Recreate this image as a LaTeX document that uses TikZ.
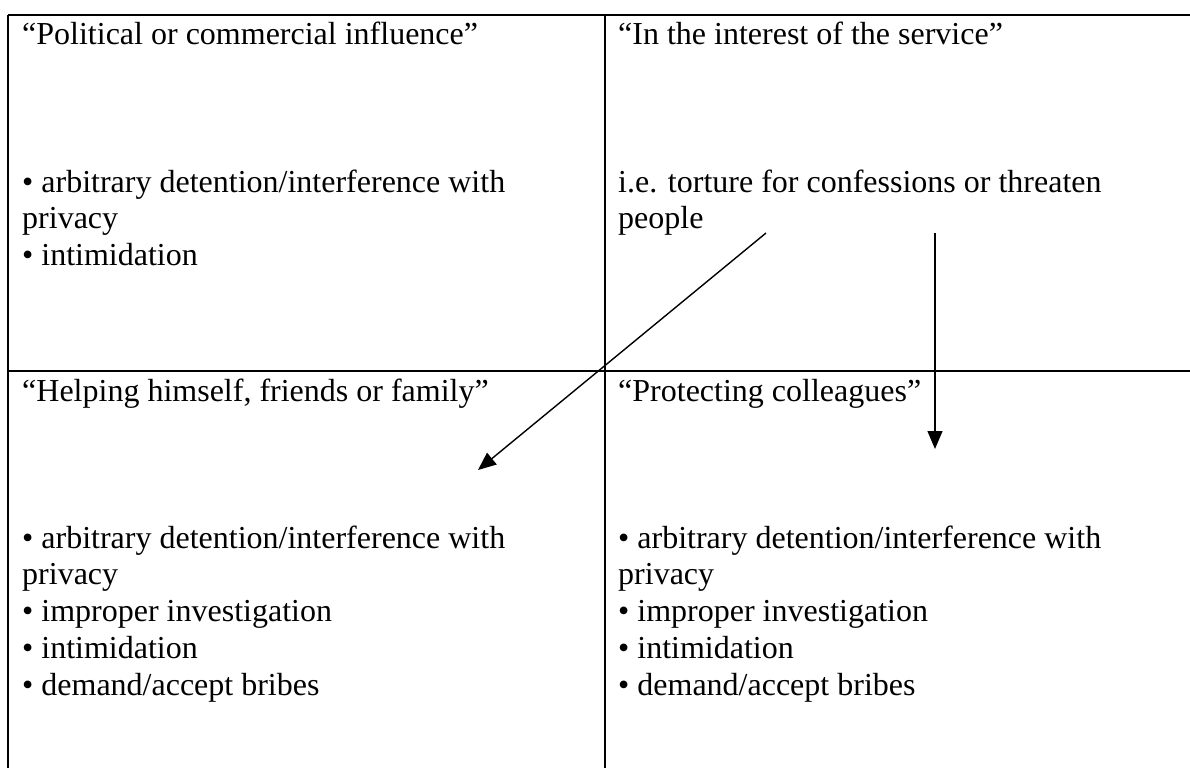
\documentclass[tikz,border=0pt]{standalone}
\usepackage{fontspec}
\setmainfont{Liberation Serif}
\usetikzlibrary{arrows.meta}
\begin{document}
\begin{tikzpicture}[x=1pt,y=-1pt,
  grid/.style={line width=2.2pt,black},
  txt/.style={anchor=base west,inner sep=0pt,font=\fontsize{32}{36.8}\selectfont},
  arr/.style={line width=1.4pt,-{Triangle[length=18pt,width=15pt]}}]
\useasboundingbox (0,0) rectangle (1190,768);
% grid
\coordinate (tl) at (8,15);
\coordinate (tr) at (1190,15);
\coordinate (ml) at (8,371);
\coordinate (mr) at (1190,371);
\coordinate (bl) at (8,768);
\coordinate (mt) at (605,15);
\coordinate (mb) at (605,768);
\draw[grid] (tl) -- (tr);
\draw[grid] (ml) -- (mr);
\draw[grid] (tl) -- (bl);
\draw[grid] (mt) -- (mb);
% texts
\node[txt] (t1) at (22,45) {“Political or commercial influence”};
\node[txt] (b1) at (22,192) {\vtop{\hbox{• arbitrary detention/interference with}\hbox{privacy}\hbox{• intimidation}}};
\node[txt] (t2) at (618,45) {“In the interest of the service”};
\node[txt] (b2) at (618,192) {\vtop{\hbox{i.e. torture for confessions or threaten}\hbox{people}}};
\node[txt] (t3) at (22,401) {“Helping himself, friends or family”};
\node[txt] (b3) at (22,548) {\vtop{\hbox{• arbitrary detention/interference with}\hbox{privacy}\hbox{• improper investigation}\hbox{• intimidation}\hbox{• demand/accept bribes}}};
\node[txt] (t4) at (618,401) {“Protecting colleagues”};
\node[txt] (b4) at (618,548) {\vtop{\hbox{• arbitrary detention/interference with}\hbox{privacy}\hbox{• improper investigation}\hbox{• intimidation}\hbox{• demand/accept bribes}}};
% arrows
\coordinate (a1s) at (766,233);
\coordinate (a1e) at (478,470);
\coordinate (a2s) at (935,233);
\coordinate (a2e) at (935,449);
\draw[arr] (a1s) -- (a1e);
\draw[arr] (a2s) -- (a2e);
\end{tikzpicture}
\end{document}
